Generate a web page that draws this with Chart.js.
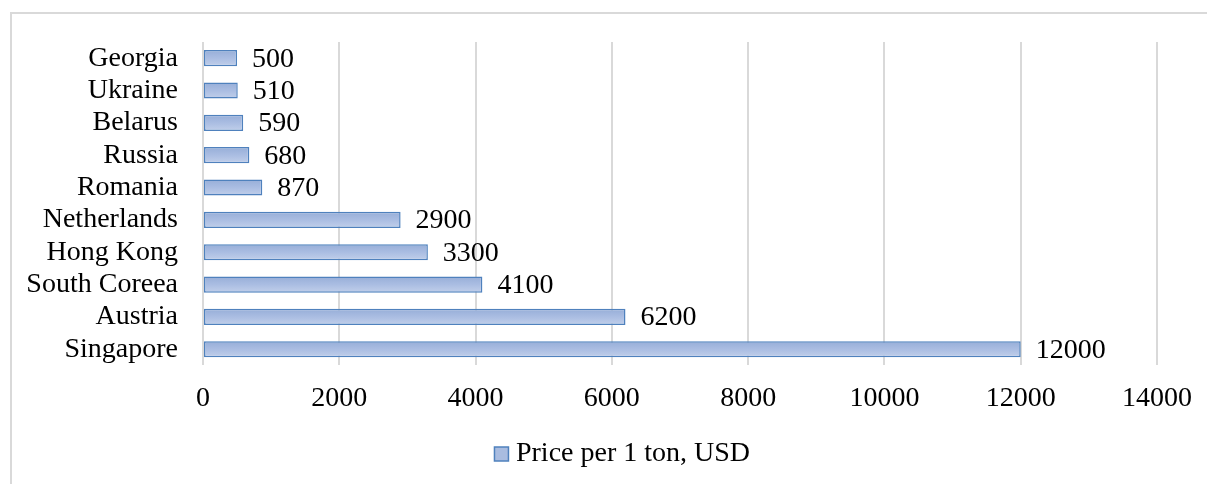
<!DOCTYPE html>
<html>
<head>
<meta charset="utf-8">
<script src="https://cdn.jsdelivr.net/npm/chart.js@4.4.1/dist/chart.umd.min.js"></script>
<style>
  html, body { margin: 0; padding: 0; background: #fff; }
  #wrap { width: 1207px; height: 484px; position: relative; }
</style>
</head>
<body>
<div id="wrap"><canvas id="mycanvas" width="1207" height="484"></canvas></div>
<script>
var countries = ['Georgia', 'Ukraine', 'Belarus', 'Russia', 'Romania', 'Netherlands', 'Hong Kong', 'South Coreea', 'Austria', 'Singapore'];
var prices = [500, 510, 590, 680, 870, 2900, 3300, 4100, 6200, 12000];
var xTicks = [0, 2000, 4000, 6000, 8000, 10000, 12000, 14000];

var FONT = 'Liberation Serif, Times New Roman, serif';

function barFill(c) {
	var chart = c.chart;
	var y = chart.scales && chart.scales.y;
	if (!y || c.type !== 'data') return '#a9bce0';
	var mid = y.getPixelForValue(c.dataIndex);
	if (mid == null || isNaN(mid)) return '#a9bce0';
	var g = chart.ctx.createLinearGradient(0, mid - 8, 0, mid + 8);
	g.addColorStop(0, '#97aed8');
	g.addColorStop(0.5, '#aabde2');
	g.addColorStop(1, '#c1cfea');
	return g;
}

// light frame round the chart
var frame = {
	id: 'frame',
	beforeDraw: function(chart) {
		var ctx = chart.ctx;
		ctx.save();
		ctx.strokeStyle = '#d9d9d9';
		ctx.lineWidth = 2;
		ctx.beginPath();
		ctx.moveTo(11, 484);
		ctx.lineTo(11, 13);
		ctx.lineTo(1207, 13);
		ctx.stroke();
		ctx.restore();
	}
};

// legend sits a bit right of the plot centre in the original
var legendShift = {
	id: 'legendShift',
	afterLayout: function(chart) {
		if (chart.legend) {
			chart.legend.left += 47;
			chart.legend.right += 47;
		}
	}
};

// value labels at the end of each bar
var valueLabels = {
	id: 'valueLabels',
	afterDatasetsDraw: function(chart) {
		var ctx = chart.ctx;
		var meta = chart.getDatasetMeta(0);
		ctx.save();
		ctx.font = '28px ' + FONT;
		ctx.fillStyle = '#000';
		ctx.textAlign = 'left';
		ctx.textBaseline = 'middle';
		meta.data.forEach(function(bar, i) {
			ctx.fillText(String(prices[i]), bar.x + 15, bar.y + 1);
		});
		ctx.restore();
	}
};

var chartdata = {
	labels: countries,
	datasets: [
		{
			label: 'Price per 1 ton, USD',
			data: prices,
			backgroundColor: barFill,
			borderColor: '#4f81bd',
			borderWidth: 1.5,
			borderSkipped: false,
			barPercentage: 0.5,
			categoryPercentage: 1
		}
	]
};

var barGraph = new Chart(document.getElementById('mycanvas'), {
	type: 'bar',
	data: chartdata,
	plugins: [frame, legendShift, valueLabels],
	options: {
		indexAxis: 'y',
		responsive: false,
		animation: false,
		layout: { padding: { top: 42, right: 50, left: 0, bottom: 6 } },
		scales: {
			x: {
				min: 0,
				max: 14000,
				afterBuildTicks: function(scale) {
					scale.ticks = xTicks.map(function(v) { return { value: v }; });
				},
				afterFit: function(scale) { scale.paddingLeft = 0; scale.paddingRight = 0; },
				grid: { color: '#d9d9d9', lineWidth: 2, drawTicks: false },
				border: { display: false },
				ticks: {
					color: '#000',
					padding: 16,
					font: { family: FONT, size: 28 },
					callback: function(v) { return String(v); }
				}
			},
			y: {
				afterFit: function(scale) { scale.width = 203; scale.paddingTop = 0; scale.paddingBottom = 0; },
				grid: { display: false, drawTicks: false },
				border: { display: false },
				ticks: { color: '#000', padding: 25, autoSkip: false, font: { family: FONT, size: 28 } }
			}
		},
		plugins: {
			tooltip: { enabled: false },
			legend: {
				position: 'bottom',
				labels: {
					color: '#000',
					usePointStyle: true,
					boxWidth: 1,
					boxHeight: 14,
					padding: 9,
					font: { family: FONT, size: 28 },
					generateLabels: function(chart) {
						return [{
							text: chartdata.datasets[0].label,
							fillStyle: '#a9bce0',
							strokeStyle: '#4f81bd',
							lineWidth: 1.5,
							pointStyle: 'rect',
							datasetIndex: 0
						}];
					}
				}
			}
		}
	}
});
</script>
</body>
</html>
